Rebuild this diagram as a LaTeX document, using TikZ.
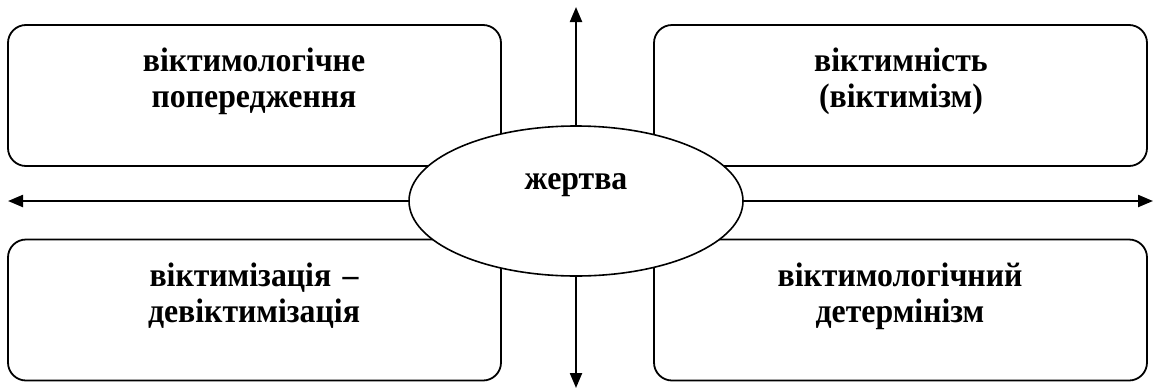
\documentclass[tikz,border=0pt]{standalone}
\usepackage{fontspec}
\setmainfont{Liberation Serif}
\newfontfamily\lblfont{Liberation Serif}[FakeStretch=0.935]
\usetikzlibrary{shapes.geometric,arrows.meta}
\begin{document}
\begin{tikzpicture}[x=1pt,y=-1pt,
  box/.style={draw,line width=1.8pt,rounded corners=18pt,minimum width=493pt,minimum height=141pt,inner sep=0pt},
  lbl/.style={font=\lblfont\fontsize{34}{36}\selectfont\bfseries,align=center,text width=480pt,anchor=base,inner sep=0pt},
  arr/.style={line width=2.2pt,-{Triangle[length=15pt,width=12pt]}}]
\useasboundingbox (0,0) rectangle (1154,389);
\node[box] (tl) at (254.5,95.5) {};
\node[box] (tr) at (900.5,95.5) {};
\node[box] (bl) at (254.5,310) {};
\node[box] (br) at (900.5,310) {};
\node[lbl] (tlt) at (254,71) {віктимологічне\\попередження};
\node[lbl] (trt) at (901,71) {віктимність\\(віктимізм)};
\node[lbl] (blt) at (254,286) {віктимізація –\\девіктимізація};
\node[lbl] (brt) at (900,286) {віктимологічний\\детермінізм};
\node[draw,ellipse,fill=white,line width=1.6pt,minimum width=334pt,minimum height=150pt,inner sep=0pt] (e) at (576,201) {};
\node[lbl] (et) at (576,189) {жертва};
\coordinate (up) at (576,7);
\coordinate (dn) at (576,388);
\coordinate (lf) at (8,201);
\coordinate (rt) at (1153,201);
\draw[arr] (e.north) -- (up);
\draw[arr] (e.south) -- (dn);
\draw[arr] (e.west) -- (lf);
\draw[arr] (e.east) -- (rt);
\end{tikzpicture}
\end{document}
